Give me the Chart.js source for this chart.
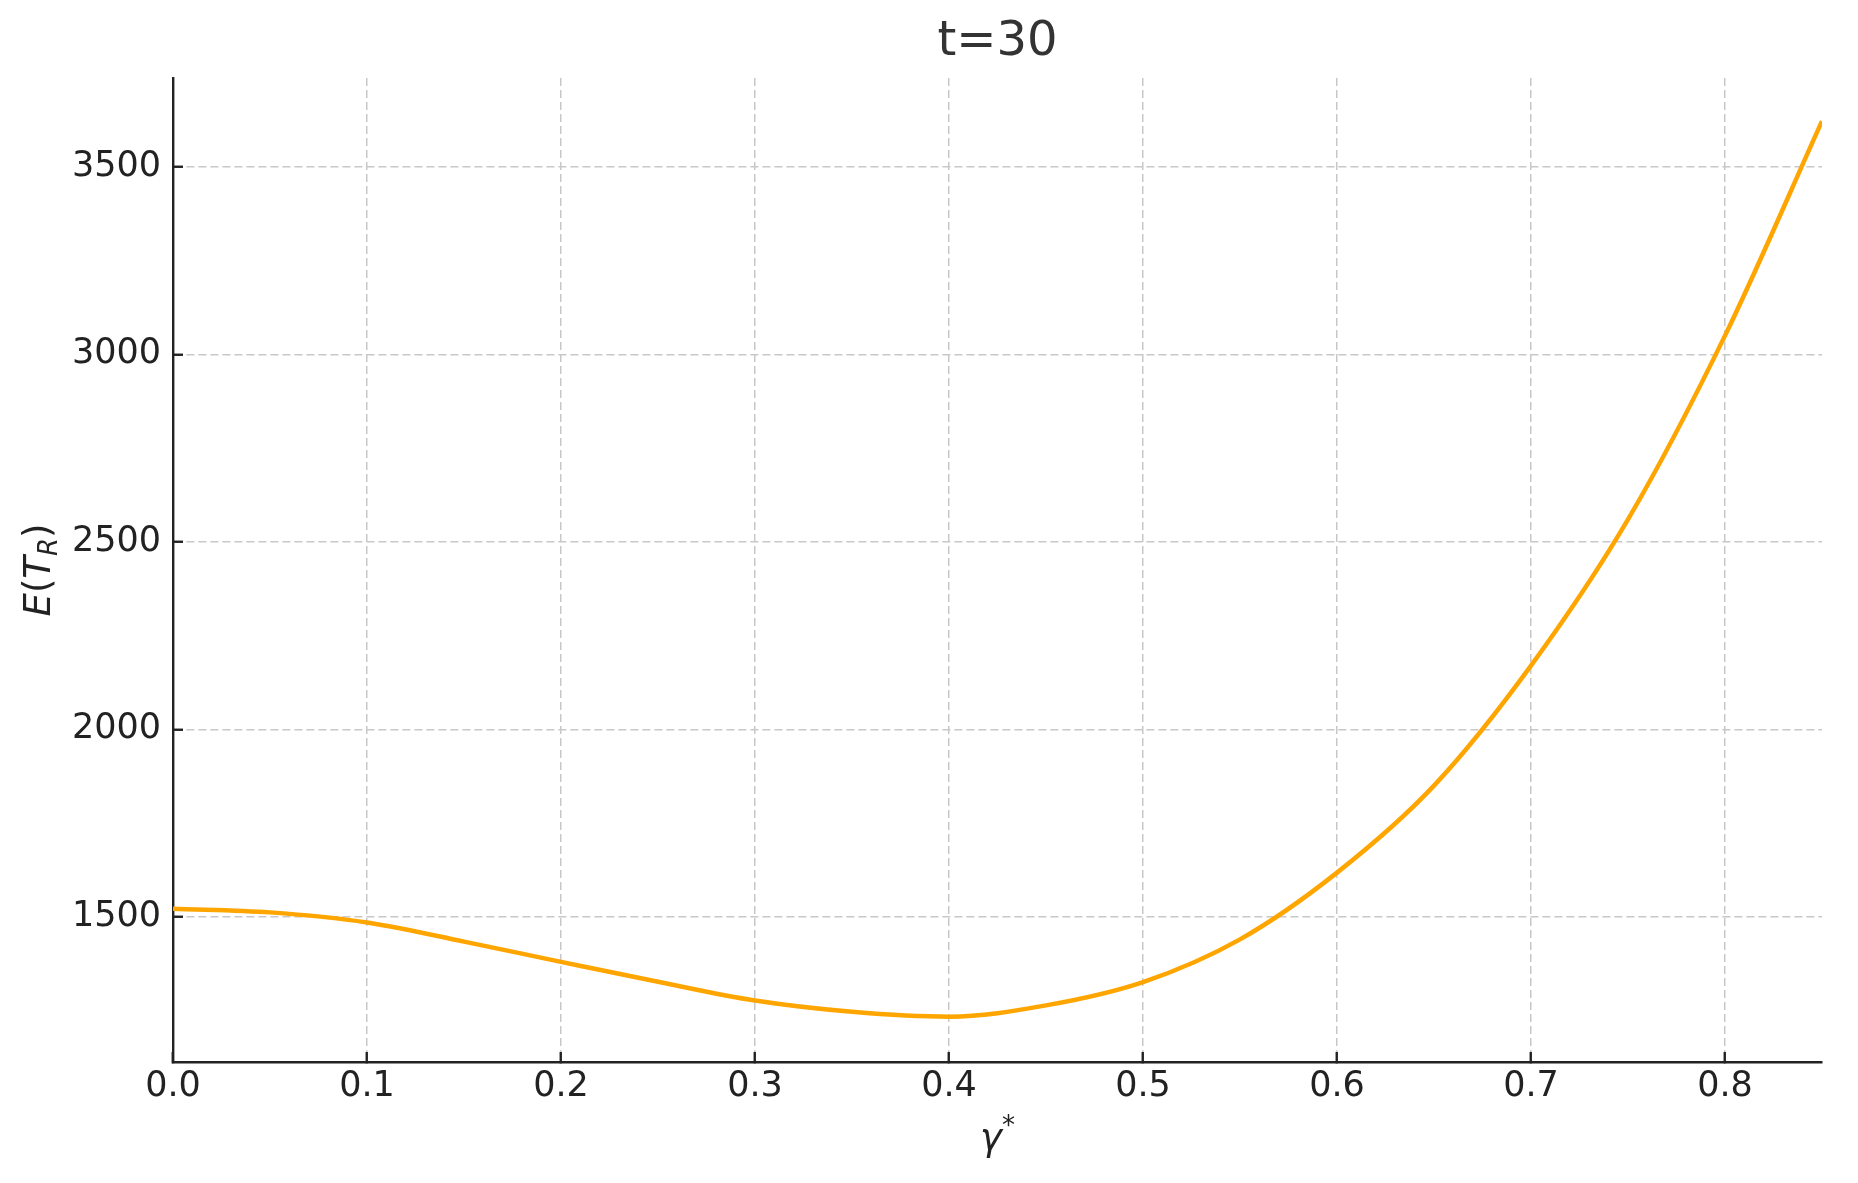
<!DOCTYPE html>
<html>
<head>
<meta charset="utf-8">
<title>t=30</title>
<script src="https://cdn.jsdelivr.net/npm/chart.js@4.4.1/dist/chart.umd.min.js"></script>
<style>
  html, body { margin: 0; padding: 0; background: #fff; }
  #wrap { width: 1858px; height: 1183px; }
</style>
</head>
<body>
<div id="wrap"><canvas id="chart"></canvas></div>
<script>
// gamma* values and E(T_R)
const gammaVals = [0.00, 0.05, 0.10, 0.15, 0.20, 0.25, 0.30, 0.35, 0.40, 0.45, 0.50, 0.55, 0.60, 0.65, 0.70, 0.75, 0.80, 0.85];
const expectedTR = [1522, 1512, 1485, 1434, 1380, 1327, 1277, 1247, 1234, 1264, 1326, 1440, 1618, 1850, 2170, 2560, 3050, 3622];

const xTicks = [0.0, 0.1, 0.2, 0.3, 0.4, 0.5, 0.6, 0.7, 0.8];
const yTicks = [1500, 2000, 2500, 3000, 3500];

const TITLE = 't=30';
const FONT = "'DejaVu Sans', sans-serif";
const INK = '#222222';

// plot area edges in the reference
const AREA = { left: 173, right: 1822, top: 78, bottom: 1062 };
const W = 1858, H = 1183;

const points = gammaVals.map((g, i) => ({ x: g, y: expectedTR[i] }));

// title + axis titles (with sub/superscripts), drawn as canvas text
const textLayer = {
  id: 'textLayer',
  afterDraw(chart) {
    const ctx = chart.ctx;
    const area = chart.chartArea;
    const midX = (area.left + area.right) / 2;
    const size = 37;
    const small = 26;

    // title, centred over the plot area like matplotlib
    ctx.save();
    ctx.fillStyle = '#333333';
    ctx.font = `48px ${FONT}`;
    ctx.textAlign = 'center';
    ctx.textBaseline = 'middle';
    ctx.fillText(TITLE, midX, 43);
    ctx.restore();

    // y title: E(T_R), rotated
    ctx.save();
    ctx.fillStyle = INK;
    ctx.textBaseline = 'alphabetic';
    ctx.textAlign = 'left';
    const parts = [
      { t: 'E', f: `italic ${size}px ${FONT}`, dy: 0 },
      { t: '(', f: `${size}px ${FONT}`, dy: 0 },
      { t: 'T', f: `italic ${size}px ${FONT}`, dy: 0 },
      { t: 'R', f: `italic ${small}px ${FONT}`, dy: 7 },
      { t: ')', f: `${size}px ${FONT}`, dy: 0 },
    ];
    let total = 0;
    parts.forEach(p => { ctx.font = p.f; p.w = ctx.measureText(p.t).width; total += p.w; });
    ctx.translate(50, (area.top + area.bottom) / 2);
    ctx.rotate(-Math.PI / 2);
    let x = -total / 2;
    parts.forEach(p => { ctx.font = p.f; ctx.fillText(p.t, x, p.dy); x += p.w; });
    ctx.restore();

    // x title: gamma*
    ctx.save();
    ctx.fillStyle = INK;
    ctx.textBaseline = 'alphabetic';
    ctx.textAlign = 'left';
    const xp = [
      { t: 'γ', f: `italic ${size}px ${FONT}`, dy: 0 },
      { t: '*', f: `${small}px ${FONT}`, dy: -16 },
    ];
    total = 0;
    xp.forEach(p => { ctx.font = p.f; p.w = ctx.measureText(p.t).width; total += p.w; });
    x = midX - total / 2;
    xp.forEach(p => { ctx.font = p.f; ctx.fillText(p.t, x, 1150 + p.dy); x += p.w; });
    ctx.restore();
  }
};

const bgWhite = {
  id: 'bgWhite',
  beforeDraw(chart) {
    const ctx = chart.ctx;
    ctx.save();
    ctx.fillStyle = '#ffffff';
    ctx.fillRect(0, 0, chart.width, chart.height);
    ctx.restore();
  }
};

// inward tick marks: negative tickLength
const gridStyle = {
  color: '#c8c8c8',
  lineWidth: 1.5,
  drawTicks: true,
  tickLength: -10,
  tickColor: INK,
  tickWidth: 2.4,
  tickBorderDash: [],
};
const borderStyle = { display: true, color: INK, width: 2.4, dash: [8, 4] };

new Chart(document.getElementById('chart'), {
  type: 'line',
  data: {
    datasets: [{
      data: points,
      borderColor: '#FFA500',
      borderWidth: 4.5,
      pointRadius: 0,
      fill: false,
      cubicInterpolationMode: 'monotone',
    }],
  },
  options: {
    responsive: true,
    maintainAspectRatio: false,
    animation: false,
    events: [],
    layout: { padding: { left: 0, right: W - AREA.right, top: AREA.top, bottom: 0 } },
    plugins: {
      legend: { display: false },
      tooltip: { enabled: false },
      title: { display: false },
    },
    scales: {
      x: {
        type: 'linear',
        min: 0,
        max: 0.85,
        afterBuildTicks: (s) => { s.ticks = xTicks.map(v => ({ value: v })); },
        afterFit: (s) => { s.height = H - AREA.bottom; },
        grid: gridStyle,
        border: borderStyle,
        ticks: {
          color: INK,
          padding: 14,
          maxRotation: 0,
          font: { family: FONT, size: 35 },
          callback: (v) => Number(v).toFixed(1),
        },
      },
      y: {
        type: 'linear',
        min: 1113,
        max: 3737,
        afterBuildTicks: (s) => { s.ticks = yTicks.map(v => ({ value: v })); },
        afterFit: (s) => { s.width = AREA.left; },
        grid: gridStyle,
        border: borderStyle,
        ticks: {
          color: INK,
          padding: 22,
          font: { family: FONT, size: 35 },
          callback: (v) => String(v),
        },
      },
    },
  },
  plugins: [bgWhite, textLayer],
});
</script>
</body>
</html>
